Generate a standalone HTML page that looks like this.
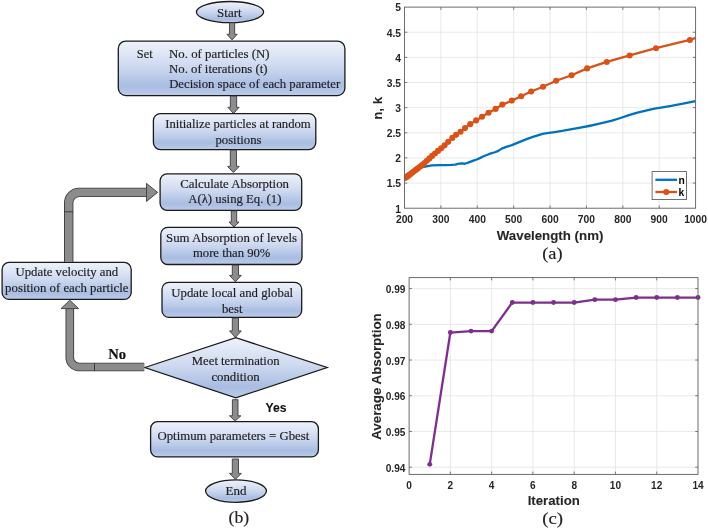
<!DOCTYPE html>
<html><head><meta charset="utf-8"><title>Figure</title>
<style>html,body{margin:0;padding:0;background:#fff;width:708px;height:530px;overflow:hidden;}svg{display:block;will-change:transform;}</style>
</head><body>
<svg width="708" height="530" viewBox="0 0 708 530">
<defs>
<linearGradient id="g1" x1="0" y1="0" x2="0" y2="1">
<stop offset="0" stop-color="#eef2fa"/>
<stop offset="0.45" stop-color="#cfdaf0"/>
<stop offset="0.82" stop-color="#a9bde2"/>
<stop offset="1" stop-color="#bccbea"/>
</linearGradient>
</defs>
<rect width="708" height="530" fill="#fff"/>
<ellipse cx="230" cy="12.1" rx="33.6" ry="10.6" fill="url(#g1)" stroke="#1a1a1a" stroke-width="1.3"/>
<text x="217.13" y="16.9" font-family='"Liberation Serif", serif' font-size="12" font-weight="normal" fill="#1e1e1e" textLength="24.45" lengthAdjust="spacingAndGlyphs" stroke="#1e1e1e" stroke-width="0.16">Start</text>
<polygon points="229.47,22.8 234.67,22.8 234.67,34.3 237.22,34.3 232.07,39.9 226.92,34.3 229.47,34.3" fill="#8c8c8c" stroke="#3c3c3c" stroke-width="0.9" stroke-linejoin="miter"/>
<rect x="118.3" y="41.1" width="226.6" height="54.5" rx="7.5" ry="7.5" fill="url(#g1)" stroke="#1a1a1a" stroke-width="1.3"/>
<text x="136.87" y="57.6" font-family='"Liberation Serif", serif' font-size="12" font-weight="normal" fill="#1e1e1e" textLength="15.8" lengthAdjust="spacingAndGlyphs" stroke="#1e1e1e" stroke-width="0.16">Set</text>
<text x="169.05" y="57.7" font-family='"Liberation Serif", serif' font-size="12" font-weight="normal" fill="#1e1e1e" textLength="100.51" lengthAdjust="spacingAndGlyphs" stroke="#1e1e1e" stroke-width="0.16">No. of particles (N)</text>
<text x="169.05" y="73.4" font-family='"Liberation Serif", serif' font-size="12" font-weight="normal" fill="#1e1e1e" textLength="98.5" lengthAdjust="spacingAndGlyphs" stroke="#1e1e1e" stroke-width="0.16">No. of iterations (t)</text>
<text x="169.15" y="87.5" font-family='"Liberation Serif", serif' font-size="12" font-weight="normal" fill="#1e1e1e" textLength="171.04" lengthAdjust="spacingAndGlyphs" stroke="#1e1e1e" stroke-width="0.16">Decision space of each parameter</text>
<polygon points="230.35,96.2 236.65,96.2 236.65,107.3 239.1,107.3 233.5,113.6 227.9,107.3 230.35,107.3" fill="#8c8c8c" stroke="#3c3c3c" stroke-width="0.9" stroke-linejoin="miter"/>
<rect x="153.4" y="113.6" width="162.4" height="36" rx="7" ry="7" fill="url(#g1)" stroke="#1a1a1a" stroke-width="1.3"/>
<text x="165.16" y="128.3" font-family='"Liberation Serif", serif' font-size="12" font-weight="normal" fill="#1e1e1e" textLength="145.54" lengthAdjust="spacingAndGlyphs" stroke="#1e1e1e" stroke-width="0.16">Initialize particles at random</text>
<text x="215.41" y="143.6" font-family='"Liberation Serif", serif' font-size="12" font-weight="normal" fill="#1e1e1e" textLength="46.06" lengthAdjust="spacingAndGlyphs" stroke="#1e1e1e" stroke-width="0.16">positions</text>
<polygon points="230.3,150.2 236.5,150.2 236.5,166.4 239.2,166.4 233.4,172.5 227.6,166.4 230.3,166.4" fill="#8c8c8c" stroke="#3c3c3c" stroke-width="0.9" stroke-linejoin="miter"/>
<rect x="160.1" y="173.8" width="141.6" height="36.5" rx="7" ry="7" fill="url(#g1)" stroke="#1a1a1a" stroke-width="1.3"/>
<text x="180.19" y="187.8" font-family='"Liberation Serif", serif' font-size="12" font-weight="normal" fill="#1e1e1e" textLength="108.82" lengthAdjust="spacingAndGlyphs" stroke="#1e1e1e" stroke-width="0.16">Calculate Absorption</text>
<text x="188.27" y="203.3" font-family='"Liberation Serif", serif' font-size="12" font-weight="normal" fill="#1e1e1e" textLength="93.16" lengthAdjust="spacingAndGlyphs" stroke="#1e1e1e" stroke-width="0.16">A(λ) using Eq. (1)</text>
<polygon points="231.3,210.9 236.7,210.9 236.7,222.1 239,222.1 234,227 229,222.1 231.3,222.1" fill="#8c8c8c" stroke="#3c3c3c" stroke-width="0.9" stroke-linejoin="miter"/>
<rect x="160.8" y="227.3" width="141.2" height="37.2" rx="7" ry="7" fill="url(#g1)" stroke="#1a1a1a" stroke-width="1.3"/>
<text x="166.03" y="241.5" font-family='"Liberation Serif", serif' font-size="12" font-weight="normal" fill="#1e1e1e" textLength="130.94" lengthAdjust="spacingAndGlyphs" stroke="#1e1e1e" stroke-width="0.16">Sum Absorption of levels</text>
<text x="192.95" y="257.1" font-family='"Liberation Serif", serif' font-size="12" font-weight="normal" fill="#1e1e1e" textLength="77.46" lengthAdjust="spacingAndGlyphs" stroke="#1e1e1e" stroke-width="0.16">more than 90%</text>
<polygon points="232.3,265.1 238.5,265.1 238.5,275.4 241.25,275.4 235.4,281.8 229.55,275.4 232.3,275.4" fill="#8c8c8c" stroke="#3c3c3c" stroke-width="0.9" stroke-linejoin="miter"/>
<rect x="162" y="282.3" width="139.7" height="35.1" rx="7" ry="7" fill="url(#g1)" stroke="#1a1a1a" stroke-width="1.3"/>
<text x="171.34" y="297.4" font-family='"Liberation Serif", serif' font-size="12" font-weight="normal" fill="#1e1e1e" textLength="121.81" lengthAdjust="spacingAndGlyphs" stroke="#1e1e1e" stroke-width="0.16">Update local and global</text>
<text x="222" y="312.8" font-family='"Liberation Serif", serif' font-size="12" font-weight="normal" fill="#1e1e1e" textLength="20.47" lengthAdjust="spacingAndGlyphs" stroke="#1e1e1e" stroke-width="0.16">best</text>
<polygon points="232.3,318 238.5,318 238.5,330.9 241.25,330.9 235.4,337.5 229.55,330.9 232.3,330.9" fill="#8c8c8c" stroke="#3c3c3c" stroke-width="0.9" stroke-linejoin="miter"/>
<polygon points="144.8,367.5 235.8,337.6 327.1,367.5 235.8,397.9" fill="url(#g1)" stroke="#1a1a1a" stroke-width="1.3" stroke-linejoin="miter"/>
<text x="191.85" y="365" font-family='"Liberation Serif", serif' font-size="12" font-weight="normal" fill="#1e1e1e" textLength="87.74" lengthAdjust="spacingAndGlyphs" stroke="#1e1e1e" stroke-width="0.16">Meet termination</text>
<text x="211.42" y="381" font-family='"Liberation Serif", serif' font-size="12" font-weight="normal" fill="#1e1e1e" textLength="48.27" lengthAdjust="spacingAndGlyphs" stroke="#1e1e1e" stroke-width="0.16">condition</text>
<polygon points="232.4,399.7 238,399.7 238,415.8 240.9,415.8 235.2,421 229.5,415.8 232.4,415.8" fill="#8c8c8c" stroke="#3c3c3c" stroke-width="0.9" stroke-linejoin="miter"/>
<text x="265.49" y="412.4" font-family='"Liberation Sans", sans-serif' font-size="12.8" font-weight="bold" fill="#111" textLength="21.02" lengthAdjust="spacingAndGlyphs" stroke="#111" stroke-width="0.08">Yes</text>
<rect x="150.6" y="421.7" width="167.8" height="35.2" rx="7" ry="7" fill="url(#g1)" stroke="#1a1a1a" stroke-width="1.3"/>
<text x="157.49" y="440.2" font-family='"Liberation Serif", serif' font-size="12" font-weight="normal" fill="#1e1e1e" textLength="151.77" lengthAdjust="spacingAndGlyphs" stroke="#1e1e1e" stroke-width="0.16">Optimum parameters = Gbest</text>
<polygon points="232.3,459 238.5,459 238.5,473.4 241.3,473.4 235.4,479.3 229.5,473.4 232.3,473.4" fill="#8c8c8c" stroke="#3c3c3c" stroke-width="0.9" stroke-linejoin="miter"/>
<ellipse cx="236" cy="491.1" rx="30.4" ry="11.2" fill="url(#g1)" stroke="#1a1a1a" stroke-width="1.3"/>
<text x="225.54" y="495.2" font-family='"Liberation Serif", serif' font-size="12" font-weight="normal" fill="#1e1e1e" textLength="20.93" lengthAdjust="spacingAndGlyphs" stroke="#1e1e1e" stroke-width="0.16">End</text>
<text x="228.55" y="523" font-family='"Liberation Serif", serif' font-size="17.5" font-weight="normal" fill="#222" textLength="20.62" lengthAdjust="spacingAndGlyphs" stroke="#222" stroke-width="0.16">(b)</text>
<rect x="2.1" y="262.4" width="129.1" height="37" rx="7" ry="7" fill="url(#g1)" stroke="#1a1a1a" stroke-width="1.3"/>
<text x="15.55" y="276.1" font-family='"Liberation Serif", serif' font-size="12" font-weight="normal" fill="#1e1e1e" textLength="102.62" lengthAdjust="spacingAndGlyphs" stroke="#1e1e1e" stroke-width="0.16">Update velocity and</text>
<text x="5.11" y="292.2" font-family='"Liberation Serif", serif' font-size="12" font-weight="normal" fill="#1e1e1e" textLength="123.31" lengthAdjust="spacingAndGlyphs" stroke="#1e1e1e" stroke-width="0.16">position of each particle</text>
<path d="M68.7,262 L68.7,202.9 A10.5,10.5 0 0 1 79.2,192.4 L147.5,192.4" fill="none" stroke="#3c3c3c" stroke-width="9.4" stroke-linejoin="round"/>
<path d="M68.7,262 L68.7,202.9 A10.5,10.5 0 0 1 79.2,192.4 L147.5,192.4" fill="none" stroke="#8c8c8c" stroke-width="7.6000000000000005" stroke-linejoin="round"/>
<line x1="64.2" y1="211.8" x2="73.2" y2="211.8" stroke="#3c3c3c" stroke-width="1"/>
<polygon points="146.5,183.4 157.6,192.4 146.5,201.4" fill="#8c8c8c" stroke="#3c3c3c" stroke-width="0.9"/>
<path d="M144.2,367 L79,367 A9.6,9.6 0 0 1 69.8,357.4 L69.8,308.5" fill="none" stroke="#3c3c3c" stroke-width="8.6" stroke-linejoin="round"/>
<path d="M144.2,367 L79,367 A9.6,9.6 0 0 1 69.8,357.4 L69.8,308.5" fill="none" stroke="#8c8c8c" stroke-width="6.8" stroke-linejoin="round"/>
<line x1="94.5" y1="362.9" x2="94.5" y2="371.1" stroke="#3c3c3c" stroke-width="1"/>
<polygon points="61,308.6 69.8,300.2 78.6,308.6" fill="#8c8c8c" stroke="#3c3c3c" stroke-width="0.9"/>
<text x="108.31" y="358.8" font-family='"Liberation Serif", serif' font-size="13.6" font-weight="bold" fill="#111" textLength="17.83" lengthAdjust="spacingAndGlyphs" stroke="#111" stroke-width="0.16">No</text>
<line x1="440.89" y1="7.1" x2="440.89" y2="208.2" stroke="#e0e0e0" stroke-width="0.7"/>
<line x1="477.27" y1="7.1" x2="477.27" y2="208.2" stroke="#e0e0e0" stroke-width="0.7"/>
<line x1="513.66" y1="7.1" x2="513.66" y2="208.2" stroke="#e0e0e0" stroke-width="0.7"/>
<line x1="550.05" y1="7.1" x2="550.05" y2="208.2" stroke="#e0e0e0" stroke-width="0.7"/>
<line x1="586.44" y1="7.1" x2="586.44" y2="208.2" stroke="#e0e0e0" stroke-width="0.7"/>
<line x1="622.83" y1="7.1" x2="622.83" y2="208.2" stroke="#e0e0e0" stroke-width="0.7"/>
<line x1="659.21" y1="7.1" x2="659.21" y2="208.2" stroke="#e0e0e0" stroke-width="0.7"/>
<line x1="404.5" y1="183.06" x2="695.6" y2="183.06" stroke="#e0e0e0" stroke-width="0.7"/>
<line x1="404.5" y1="157.92" x2="695.6" y2="157.92" stroke="#e0e0e0" stroke-width="0.7"/>
<line x1="404.5" y1="132.79" x2="695.6" y2="132.79" stroke="#e0e0e0" stroke-width="0.7"/>
<line x1="404.5" y1="107.65" x2="695.6" y2="107.65" stroke="#e0e0e0" stroke-width="0.7"/>
<line x1="404.5" y1="82.51" x2="695.6" y2="82.51" stroke="#e0e0e0" stroke-width="0.7"/>
<line x1="404.5" y1="57.38" x2="695.6" y2="57.38" stroke="#e0e0e0" stroke-width="0.7"/>
<line x1="404.5" y1="32.24" x2="695.6" y2="32.24" stroke="#e0e0e0" stroke-width="0.7"/>
<clipPath id="clipa"><rect x="404.5" y="7.1" width="291.1" height="201.1"/></clipPath>
<g clip-path="url(#clipa)"><path d="M404.5,175.87 L408.5,173.51 L415.05,169.99 L421.6,167.48 L423.79,166.87 L431.61,165.37 L439.91,165.11 L445.55,165.06 L451.22,164.96 L455.22,164.56 L459.12,163.66 L461.92,163.35 L464.83,163.76 L468.11,162.65 L472.73,160.94 L476.62,159.53 L479.93,158.13 L483.61,156.27 L489.25,153.95 L494.92,152.24 L498.34,150.84 L501.73,148.62 L506.24,146.91 L511.84,145.16 L517.96,142.64 L521.67,141.13 L527.24,138.92 L532.95,136.91 L538.55,135.15 L542.55,133.84 L547.07,133.04 L554.78,132.03 L563.44,130.73 L571.96,129.22 L580.36,127.71 L588.88,126 L597.35,124.14 L605.76,122.23 L611.98,120.72 L620.46,118.01 L628.9,115.09 L637.38,112.73 L645.86,110.62 L654.37,108.71 L659.47,107.8 L671.22,105.89 L681.77,103.88 L695.6,101.06" fill="none" stroke="#0072BD" stroke-width="2.3" stroke-linejoin="round"/>
<path d="M404.5,178.69 L405.57,177.86 L407.1,176.66 L408.7,175.42 L410.37,174.13 L412.11,172.78 L413.93,171.37 L415.83,169.91 L417.83,168.4 L419.92,166.82 L422.11,165.1 L424.42,162.98 L426.85,160.76 L429.41,158.41 L432.11,155.92 L434.96,153.47 L437.99,150.88 L441.19,148.36 L444.59,145.36 L448.21,141.86 L452.32,137.89 L456.12,134.87 L460.52,131.77 L465.02,128.11 L470.22,124.14 L476.12,120.41 L482.03,116.76 L488.53,112.82 L495.63,108.9 L502.33,104.59 L511.84,100.61 L521.14,96.23 L531.14,91.51 L543.05,86.76 L556.15,80.79 L571.56,75.28 L587.16,68.4 L606.77,61.94 L629.68,55.43 L655.99,48.19 L689.9,39.98 L695.6,37.82" fill="none" stroke="#D95319" stroke-width="2.3" stroke-linejoin="round"/>
<circle cx="405.57" cy="177.86" r="3.05" fill="#D95319"/>
<circle cx="407.1" cy="176.66" r="3.05" fill="#D95319"/>
<circle cx="408.7" cy="175.42" r="3.05" fill="#D95319"/>
<circle cx="410.37" cy="174.13" r="3.05" fill="#D95319"/>
<circle cx="412.11" cy="172.78" r="3.05" fill="#D95319"/>
<circle cx="413.93" cy="171.37" r="3.05" fill="#D95319"/>
<circle cx="415.83" cy="169.91" r="3.05" fill="#D95319"/>
<circle cx="417.83" cy="168.4" r="3.05" fill="#D95319"/>
<circle cx="419.92" cy="166.82" r="3.05" fill="#D95319"/>
<circle cx="422.11" cy="165.1" r="3.05" fill="#D95319"/>
<circle cx="424.42" cy="162.98" r="3.05" fill="#D95319"/>
<circle cx="426.85" cy="160.76" r="3.05" fill="#D95319"/>
<circle cx="429.41" cy="158.41" r="3.05" fill="#D95319"/>
<circle cx="432.11" cy="155.92" r="3.05" fill="#D95319"/>
<circle cx="434.96" cy="153.47" r="3.05" fill="#D95319"/>
<circle cx="437.99" cy="150.88" r="3.05" fill="#D95319"/>
<circle cx="441.19" cy="148.36" r="3.05" fill="#D95319"/>
<circle cx="444.59" cy="145.36" r="3.05" fill="#D95319"/>
<circle cx="448.21" cy="141.86" r="3.05" fill="#D95319"/>
<circle cx="452.32" cy="137.89" r="3.05" fill="#D95319"/>
<circle cx="456.12" cy="134.87" r="3.05" fill="#D95319"/>
<circle cx="460.52" cy="131.77" r="3.05" fill="#D95319"/>
<circle cx="465.02" cy="128.11" r="3.05" fill="#D95319"/>
<circle cx="470.22" cy="124.14" r="3.05" fill="#D95319"/>
<circle cx="476.12" cy="120.41" r="3.05" fill="#D95319"/>
<circle cx="482.03" cy="116.76" r="3.05" fill="#D95319"/>
<circle cx="488.53" cy="112.82" r="3.05" fill="#D95319"/>
<circle cx="495.63" cy="108.9" r="3.05" fill="#D95319"/>
<circle cx="502.33" cy="104.59" r="3.05" fill="#D95319"/>
<circle cx="511.84" cy="100.61" r="3.05" fill="#D95319"/>
<circle cx="521.14" cy="96.23" r="3.05" fill="#D95319"/>
<circle cx="531.14" cy="91.51" r="3.05" fill="#D95319"/>
<circle cx="543.05" cy="86.76" r="3.05" fill="#D95319"/>
<circle cx="556.15" cy="80.79" r="3.05" fill="#D95319"/>
<circle cx="571.56" cy="75.28" r="3.05" fill="#D95319"/>
<circle cx="587.16" cy="68.4" r="3.05" fill="#D95319"/>
<circle cx="606.77" cy="61.94" r="3.05" fill="#D95319"/>
<circle cx="629.68" cy="55.43" r="3.05" fill="#D95319"/>
<circle cx="655.99" cy="48.19" r="3.05" fill="#D95319"/>
<circle cx="689.9" cy="39.98" r="3.05" fill="#D95319"/>
</g>
<rect x="404.5" y="7.1" width="291.1" height="201.1" fill="none" stroke="#5e5e5e" stroke-width="0.9"/>
<line x1="440.89" y1="208.2" x2="440.89" y2="205.4" stroke="#5e5e5e" stroke-width="0.8"/>
<line x1="440.89" y1="7.1" x2="440.89" y2="9.9" stroke="#5e5e5e" stroke-width="0.8"/>
<line x1="477.27" y1="208.2" x2="477.27" y2="205.4" stroke="#5e5e5e" stroke-width="0.8"/>
<line x1="477.27" y1="7.1" x2="477.27" y2="9.9" stroke="#5e5e5e" stroke-width="0.8"/>
<line x1="513.66" y1="208.2" x2="513.66" y2="205.4" stroke="#5e5e5e" stroke-width="0.8"/>
<line x1="513.66" y1="7.1" x2="513.66" y2="9.9" stroke="#5e5e5e" stroke-width="0.8"/>
<line x1="550.05" y1="208.2" x2="550.05" y2="205.4" stroke="#5e5e5e" stroke-width="0.8"/>
<line x1="550.05" y1="7.1" x2="550.05" y2="9.9" stroke="#5e5e5e" stroke-width="0.8"/>
<line x1="586.44" y1="208.2" x2="586.44" y2="205.4" stroke="#5e5e5e" stroke-width="0.8"/>
<line x1="586.44" y1="7.1" x2="586.44" y2="9.9" stroke="#5e5e5e" stroke-width="0.8"/>
<line x1="622.83" y1="208.2" x2="622.83" y2="205.4" stroke="#5e5e5e" stroke-width="0.8"/>
<line x1="622.83" y1="7.1" x2="622.83" y2="9.9" stroke="#5e5e5e" stroke-width="0.8"/>
<line x1="659.21" y1="208.2" x2="659.21" y2="205.4" stroke="#5e5e5e" stroke-width="0.8"/>
<line x1="659.21" y1="7.1" x2="659.21" y2="9.9" stroke="#5e5e5e" stroke-width="0.8"/>
<line x1="404.5" y1="183.06" x2="407.3" y2="183.06" stroke="#5e5e5e" stroke-width="0.8"/>
<line x1="695.6" y1="183.06" x2="692.8" y2="183.06" stroke="#5e5e5e" stroke-width="0.8"/>
<line x1="404.5" y1="157.92" x2="407.3" y2="157.92" stroke="#5e5e5e" stroke-width="0.8"/>
<line x1="695.6" y1="157.92" x2="692.8" y2="157.92" stroke="#5e5e5e" stroke-width="0.8"/>
<line x1="404.5" y1="132.79" x2="407.3" y2="132.79" stroke="#5e5e5e" stroke-width="0.8"/>
<line x1="695.6" y1="132.79" x2="692.8" y2="132.79" stroke="#5e5e5e" stroke-width="0.8"/>
<line x1="404.5" y1="107.65" x2="407.3" y2="107.65" stroke="#5e5e5e" stroke-width="0.8"/>
<line x1="695.6" y1="107.65" x2="692.8" y2="107.65" stroke="#5e5e5e" stroke-width="0.8"/>
<line x1="404.5" y1="82.51" x2="407.3" y2="82.51" stroke="#5e5e5e" stroke-width="0.8"/>
<line x1="695.6" y1="82.51" x2="692.8" y2="82.51" stroke="#5e5e5e" stroke-width="0.8"/>
<line x1="404.5" y1="57.38" x2="407.3" y2="57.38" stroke="#5e5e5e" stroke-width="0.8"/>
<line x1="695.6" y1="57.38" x2="692.8" y2="57.38" stroke="#5e5e5e" stroke-width="0.8"/>
<line x1="404.5" y1="32.24" x2="407.3" y2="32.24" stroke="#5e5e5e" stroke-width="0.8"/>
<line x1="695.6" y1="32.24" x2="692.8" y2="32.24" stroke="#5e5e5e" stroke-width="0.8"/>
<text x="404.5" y="222.9" font-family='"Liberation Sans", sans-serif' font-size="10.3" font-weight="bold" fill="#262626" text-anchor="middle">200</text>
<text x="440.89" y="222.9" font-family='"Liberation Sans", sans-serif' font-size="10.3" font-weight="bold" fill="#262626" text-anchor="middle">300</text>
<text x="477.27" y="222.9" font-family='"Liberation Sans", sans-serif' font-size="10.3" font-weight="bold" fill="#262626" text-anchor="middle">400</text>
<text x="513.66" y="222.9" font-family='"Liberation Sans", sans-serif' font-size="10.3" font-weight="bold" fill="#262626" text-anchor="middle">500</text>
<text x="550.05" y="222.9" font-family='"Liberation Sans", sans-serif' font-size="10.3" font-weight="bold" fill="#262626" text-anchor="middle">600</text>
<text x="586.44" y="222.9" font-family='"Liberation Sans", sans-serif' font-size="10.3" font-weight="bold" fill="#262626" text-anchor="middle">700</text>
<text x="622.83" y="222.9" font-family='"Liberation Sans", sans-serif' font-size="10.3" font-weight="bold" fill="#262626" text-anchor="middle">800</text>
<text x="659.21" y="222.9" font-family='"Liberation Sans", sans-serif' font-size="10.3" font-weight="bold" fill="#262626" text-anchor="middle">900</text>
<text x="695.6" y="222.9" font-family='"Liberation Sans", sans-serif' font-size="10.3" font-weight="bold" fill="#262626" text-anchor="middle">1000</text>
<text x="401.0" y="212.5" font-family='"Liberation Sans", sans-serif' font-size="10.3" font-weight="bold" fill="#262626" text-anchor="end">1</text>
<text x="401.0" y="187.36" font-family='"Liberation Sans", sans-serif' font-size="10.3" font-weight="bold" fill="#262626" text-anchor="end">1.5</text>
<text x="401.0" y="162.22" font-family='"Liberation Sans", sans-serif' font-size="10.3" font-weight="bold" fill="#262626" text-anchor="end">2</text>
<text x="401.0" y="137.09" font-family='"Liberation Sans", sans-serif' font-size="10.3" font-weight="bold" fill="#262626" text-anchor="end">2.5</text>
<text x="401.0" y="111.95" font-family='"Liberation Sans", sans-serif' font-size="10.3" font-weight="bold" fill="#262626" text-anchor="end">3</text>
<text x="401.0" y="86.81" font-family='"Liberation Sans", sans-serif' font-size="10.3" font-weight="bold" fill="#262626" text-anchor="end">3.5</text>
<text x="401.0" y="61.67" font-family='"Liberation Sans", sans-serif' font-size="10.3" font-weight="bold" fill="#262626" text-anchor="end">4</text>
<text x="401.0" y="36.54" font-family='"Liberation Sans", sans-serif' font-size="10.3" font-weight="bold" fill="#262626" text-anchor="end">4.5</text>
<text x="401.0" y="11.4" font-family='"Liberation Sans", sans-serif' font-size="10.3" font-weight="bold" fill="#262626" text-anchor="end">5</text>
<text x="496.8" y="239.7" font-family='"Liberation Sans", sans-serif' font-size="12.6" font-weight="bold" fill="#262626" textLength="106.58" lengthAdjust="spacingAndGlyphs" stroke="#262626" stroke-width="0.08">Wavelength (nm)</text>
<text transform="translate(381.5,118.9) rotate(-90)" x="-0.87" y="0" font-family='"Liberation Sans", sans-serif' font-size="13" font-weight="bold" fill="#262626" textLength="22.94" lengthAdjust="spacingAndGlyphs" stroke="#262626" stroke-width="0.08">n, k</text>
<text x="542.22" y="259.4" font-family='"Liberation Serif", serif' font-size="17.5" font-weight="normal" fill="#222" textLength="20.36" lengthAdjust="spacingAndGlyphs" stroke="#222" stroke-width="0.16">(a)</text>
<rect x="652.1" y="171.6" width="34.4" height="28" fill="#fff" stroke="#4d4d4d" stroke-width="0.8"/>
<line x1="655.4" y1="179.8" x2="677.1" y2="179.8" stroke="#0072BD" stroke-width="2.3"/>
<line x1="655.4" y1="192" x2="677.1" y2="192" stroke="#D95319" stroke-width="2.3"/>
<circle cx="666.2" cy="192" r="3.05" fill="#D95319"/>
<text x="678.6" y="183.5" font-family='"Liberation Sans", sans-serif' font-size="10.3" font-weight="bold" fill="#000">n</text>
<text x="678.6" y="195.7" font-family='"Liberation Sans", sans-serif' font-size="10.3" font-weight="bold" fill="#000">k</text>
<line x1="450.37" y1="277.6" x2="450.37" y2="474.4" stroke="#e0e0e0" stroke-width="0.7"/>
<line x1="491.64" y1="277.6" x2="491.64" y2="474.4" stroke="#e0e0e0" stroke-width="0.7"/>
<line x1="532.91" y1="277.6" x2="532.91" y2="474.4" stroke="#e0e0e0" stroke-width="0.7"/>
<line x1="574.19" y1="277.6" x2="574.19" y2="474.4" stroke="#e0e0e0" stroke-width="0.7"/>
<line x1="615.46" y1="277.6" x2="615.46" y2="474.4" stroke="#e0e0e0" stroke-width="0.7"/>
<line x1="656.73" y1="277.6" x2="656.73" y2="474.4" stroke="#e0e0e0" stroke-width="0.7"/>
<line x1="409.1" y1="467.2" x2="698" y2="467.2" stroke="#e0e0e0" stroke-width="0.7"/>
<line x1="409.1" y1="431.48" x2="698" y2="431.48" stroke="#e0e0e0" stroke-width="0.7"/>
<line x1="409.1" y1="395.76" x2="698" y2="395.76" stroke="#e0e0e0" stroke-width="0.7"/>
<line x1="409.1" y1="360.04" x2="698" y2="360.04" stroke="#e0e0e0" stroke-width="0.7"/>
<line x1="409.1" y1="324.32" x2="698" y2="324.32" stroke="#e0e0e0" stroke-width="0.7"/>
<line x1="409.1" y1="288.6" x2="698" y2="288.6" stroke="#e0e0e0" stroke-width="0.7"/>
<path d="M429.74,464.34 L450.37,332.54 L471.01,331.11 L491.64,331.11 L512.28,302.53 L532.91,302.53 L553.55,302.53 L574.19,302.53 L594.82,299.67 L615.46,299.67 L636.09,297.53 L656.73,297.53 L677.36,297.53 L698,297.53" fill="none" stroke="#7E2F8E" stroke-width="2.3" stroke-linejoin="round"/>
<circle cx="429.74" cy="464.34" r="2.45" fill="#7E2F8E"/>
<circle cx="450.37" cy="332.54" r="2.45" fill="#7E2F8E"/>
<circle cx="471.01" cy="331.11" r="2.45" fill="#7E2F8E"/>
<circle cx="491.64" cy="331.11" r="2.45" fill="#7E2F8E"/>
<circle cx="512.28" cy="302.53" r="2.45" fill="#7E2F8E"/>
<circle cx="532.91" cy="302.53" r="2.45" fill="#7E2F8E"/>
<circle cx="553.55" cy="302.53" r="2.45" fill="#7E2F8E"/>
<circle cx="574.19" cy="302.53" r="2.45" fill="#7E2F8E"/>
<circle cx="594.82" cy="299.67" r="2.45" fill="#7E2F8E"/>
<circle cx="615.46" cy="299.67" r="2.45" fill="#7E2F8E"/>
<circle cx="636.09" cy="297.53" r="2.45" fill="#7E2F8E"/>
<circle cx="656.73" cy="297.53" r="2.45" fill="#7E2F8E"/>
<circle cx="677.36" cy="297.53" r="2.45" fill="#7E2F8E"/>
<circle cx="698" cy="297.53" r="2.45" fill="#7E2F8E"/>
<rect x="409.1" y="277.6" width="288.9" height="196.8" fill="none" stroke="#5e5e5e" stroke-width="0.9"/>
<line x1="450.37" y1="474.4" x2="450.37" y2="471.6" stroke="#5e5e5e" stroke-width="0.8"/>
<line x1="450.37" y1="277.6" x2="450.37" y2="280.4" stroke="#5e5e5e" stroke-width="0.8"/>
<line x1="491.64" y1="474.4" x2="491.64" y2="471.6" stroke="#5e5e5e" stroke-width="0.8"/>
<line x1="491.64" y1="277.6" x2="491.64" y2="280.4" stroke="#5e5e5e" stroke-width="0.8"/>
<line x1="532.91" y1="474.4" x2="532.91" y2="471.6" stroke="#5e5e5e" stroke-width="0.8"/>
<line x1="532.91" y1="277.6" x2="532.91" y2="280.4" stroke="#5e5e5e" stroke-width="0.8"/>
<line x1="574.19" y1="474.4" x2="574.19" y2="471.6" stroke="#5e5e5e" stroke-width="0.8"/>
<line x1="574.19" y1="277.6" x2="574.19" y2="280.4" stroke="#5e5e5e" stroke-width="0.8"/>
<line x1="615.46" y1="474.4" x2="615.46" y2="471.6" stroke="#5e5e5e" stroke-width="0.8"/>
<line x1="615.46" y1="277.6" x2="615.46" y2="280.4" stroke="#5e5e5e" stroke-width="0.8"/>
<line x1="656.73" y1="474.4" x2="656.73" y2="471.6" stroke="#5e5e5e" stroke-width="0.8"/>
<line x1="656.73" y1="277.6" x2="656.73" y2="280.4" stroke="#5e5e5e" stroke-width="0.8"/>
<line x1="409.1" y1="467.2" x2="411.9" y2="467.2" stroke="#5e5e5e" stroke-width="0.8"/>
<line x1="698" y1="467.2" x2="695.2" y2="467.2" stroke="#5e5e5e" stroke-width="0.8"/>
<line x1="409.1" y1="431.48" x2="411.9" y2="431.48" stroke="#5e5e5e" stroke-width="0.8"/>
<line x1="698" y1="431.48" x2="695.2" y2="431.48" stroke="#5e5e5e" stroke-width="0.8"/>
<line x1="409.1" y1="395.76" x2="411.9" y2="395.76" stroke="#5e5e5e" stroke-width="0.8"/>
<line x1="698" y1="395.76" x2="695.2" y2="395.76" stroke="#5e5e5e" stroke-width="0.8"/>
<line x1="409.1" y1="360.04" x2="411.9" y2="360.04" stroke="#5e5e5e" stroke-width="0.8"/>
<line x1="698" y1="360.04" x2="695.2" y2="360.04" stroke="#5e5e5e" stroke-width="0.8"/>
<line x1="409.1" y1="324.32" x2="411.9" y2="324.32" stroke="#5e5e5e" stroke-width="0.8"/>
<line x1="698" y1="324.32" x2="695.2" y2="324.32" stroke="#5e5e5e" stroke-width="0.8"/>
<line x1="409.1" y1="288.6" x2="411.9" y2="288.6" stroke="#5e5e5e" stroke-width="0.8"/>
<line x1="698" y1="288.6" x2="695.2" y2="288.6" stroke="#5e5e5e" stroke-width="0.8"/>
<text x="409.1" y="488.6" font-family='"Liberation Sans", sans-serif' font-size="10.1" font-weight="bold" fill="#262626" text-anchor="middle">0</text>
<text x="450.37" y="488.6" font-family='"Liberation Sans", sans-serif' font-size="10.1" font-weight="bold" fill="#262626" text-anchor="middle">2</text>
<text x="491.64" y="488.6" font-family='"Liberation Sans", sans-serif' font-size="10.1" font-weight="bold" fill="#262626" text-anchor="middle">4</text>
<text x="532.91" y="488.6" font-family='"Liberation Sans", sans-serif' font-size="10.1" font-weight="bold" fill="#262626" text-anchor="middle">6</text>
<text x="574.19" y="488.6" font-family='"Liberation Sans", sans-serif' font-size="10.1" font-weight="bold" fill="#262626" text-anchor="middle">8</text>
<text x="615.46" y="488.6" font-family='"Liberation Sans", sans-serif' font-size="10.1" font-weight="bold" fill="#262626" text-anchor="middle">10</text>
<text x="656.73" y="488.6" font-family='"Liberation Sans", sans-serif' font-size="10.1" font-weight="bold" fill="#262626" text-anchor="middle">12</text>
<text x="698" y="488.6" font-family='"Liberation Sans", sans-serif' font-size="10.1" font-weight="bold" fill="#262626" text-anchor="middle">14</text>
<text x="405.4" y="471.8" font-family='"Liberation Sans", sans-serif' font-size="10.1" font-weight="bold" fill="#262626" text-anchor="end">0.94</text>
<text x="405.4" y="436.08" font-family='"Liberation Sans", sans-serif' font-size="10.1" font-weight="bold" fill="#262626" text-anchor="end">0.95</text>
<text x="405.4" y="400.36" font-family='"Liberation Sans", sans-serif' font-size="10.1" font-weight="bold" fill="#262626" text-anchor="end">0.96</text>
<text x="405.4" y="364.64" font-family='"Liberation Sans", sans-serif' font-size="10.1" font-weight="bold" fill="#262626" text-anchor="end">0.97</text>
<text x="405.4" y="328.92" font-family='"Liberation Sans", sans-serif' font-size="10.1" font-weight="bold" fill="#262626" text-anchor="end">0.98</text>
<text x="405.4" y="293.2" font-family='"Liberation Sans", sans-serif' font-size="10.1" font-weight="bold" fill="#262626" text-anchor="end">0.99</text>
<text x="527.71" y="505" font-family='"Liberation Sans", sans-serif' font-size="13" font-weight="bold" fill="#262626" textLength="52.08" lengthAdjust="spacingAndGlyphs" stroke="#262626" stroke-width="0.08">Iteration</text>
<text transform="translate(381,439.5) rotate(-90)" x="-0.33" y="0" font-family='"Liberation Sans", sans-serif' font-size="13" font-weight="bold" fill="#262626" textLength="126.54" lengthAdjust="spacingAndGlyphs" stroke="#262626" stroke-width="0.08">Average Absorption</text>
<text x="542.2" y="524.3" font-family='"Liberation Serif", serif' font-size="17.5" font-weight="normal" fill="#222" textLength="20.79" lengthAdjust="spacingAndGlyphs" stroke="#222" stroke-width="0.16">(c)</text>
</svg>
</body></html>
